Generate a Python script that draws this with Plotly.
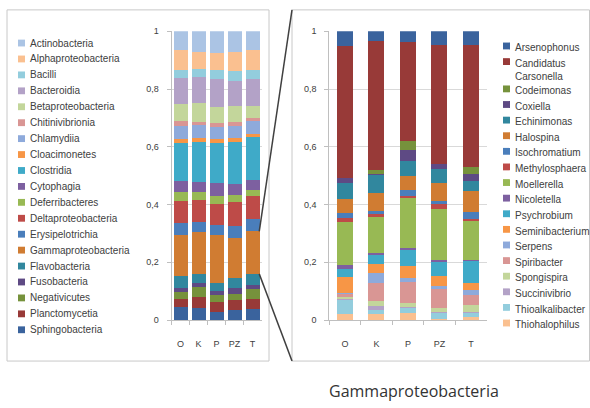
import plotly.graph_objects as go

W, H = 590, 408

samples = ["O", "K", "P", "PZ", "T"]
y_ticks = [0, 0.2, 0.4, 0.6, 0.8, 1]
y_tick_text = ["0", "0,2", "0,4", "0,6", "0,8", "1"]

# Bacterial classes, listed from the base of each stacked bar upwards
class_names = [
    "Sphingobacteria", "Planctomycetia", "Negativicutes", "Fusobacteria",
    "Flavobacteria", "Gammaproteobacteria", "Erysipelotrichia",
    "Deltaproteobacteria", "Deferribacteres", "Cytophagia", "Clostridia",
    "Cloacimonetes", "Chlamydiia", "Chitinivibrionia", "Betaproteobacteria",
    "Bacteroidia", "Bacilli", "Alphaproteobacteria", "Actinobacteria",
]
class_colors = [
    "#3A639D", "#983A38", "#76923C", "#5E4A84", "#31879E", "#D07C32",
    "#4A7EBB", "#BE4B48", "#98B954", "#7D60A0", "#3FAAC8", "#F79646",
    "#8EAADB", "#D99694", "#C3D69B", "#B3A2C7", "#93CDDD", "#FAC090",
    "#ABC4E4",
]
class_O = [0.043, 0.029, 0.024, 0.014, 0.042, 0.142, 0.041, 0.077, 0.030, 0.038,
           0.132, 0.014, 0.045, 0.017, 0.059, 0.090, 0.029, 0.069, 0.065]
class_K = [0.039, 0.040, 0.033, 0.014, 0.034, 0.143, 0.036, 0.077, 0.028, 0.034,
           0.138, 0.015, 0.043, 0.011, 0.064, 0.091, 0.027, 0.060, 0.073]
class_P = [0.028, 0.034, 0.022, 0.015, 0.030, 0.164, 0.036, 0.072, 0.027, 0.046,
           0.138, 0.015, 0.042, 0.011, 0.056, 0.098, 0.031, 0.059, 0.076]
class_PZ = [0.034, 0.033, 0.023, 0.020, 0.036, 0.137, 0.041, 0.083, 0.026, 0.037,
            0.145, 0.016, 0.041, 0.013, 0.057, 0.084, 0.034, 0.067, 0.073]
class_T = [0.038, 0.033, 0.035, 0.016, 0.038, 0.147, 0.042, 0.079, 0.023, 0.032,
           0.150, 0.011, 0.045, 0.008, 0.042, 0.095, 0.030, 0.071, 0.065]

# Genera inside Gammaproteobacteria, from the base upwards
genus_names = [
    "Thiohalophilus", "Thioalkalibacter", "Succinivibrio", "Spongispira",
    "Spiribacter", "Serpens", "Seminibacterium", "Psychrobium", "Nicoletella",
    "Moellerella", "Methylosphaera", "Isochromatium", "Halospina",
    "Echinimonas", "Coxiella", "Codeimonas", "Candidatus Carsonella",
    "Arsenophonus",
]
genus_colors = [
    "#FAC090", "#93CDDD", "#B3A2C7", "#C3D69B", "#D99694", "#8EAADB",
    "#F79646", "#3FAAC8", "#7D60A0", "#98B954", "#BE4B48", "#4A7EBB",
    "#D07C32", "#31879E", "#5E4A84", "#76923C", "#983A38", "#3A639D",
]
genus_O = [0.019, 0.051, 0.002, 0.007, 0.013, 0.002, 0.055, 0.028, 0.013,
           0.148, 0.013, 0.017, 0.049, 0.058, 0.017, 0.000, 0.457, 0.051]
genus_K = [0.019, 0.015, 0.013, 0.019, 0.062, 0.034, 0.032, 0.031, 0.007,
           0.125, 0.009, 0.010, 0.062, 0.065, 0.002, 0.014, 0.445, 0.036]
genus_P = [0.025, 0.017, 0.002, 0.015, 0.073, 0.011, 0.042, 0.056, 0.009,
           0.175, 0.003, 0.022, 0.048, 0.053, 0.036, 0.031, 0.343, 0.039]
genus_PZ = [0.003, 0.022, 0.002, 0.015, 0.064, 0.011, 0.034, 0.052, 0.005,
            0.177, 0.017, 0.008, 0.062, 0.050, 0.017, 0.000, 0.413, 0.048]
genus_T = [0.011, 0.014, 0.003, 0.022, 0.037, 0.017, 0.022, 0.079, 0.002,
           0.135, 0.006, 0.024, 0.075, 0.034, 0.024, 0.023, 0.425, 0.047]

class_table = [class_O, class_K, class_P, class_PZ, class_T]
genus_table = [genus_O, genus_K, genus_P, genus_PZ, genus_T]

# page geometry (pixels)
PLOT_TOP, PLOT_BOTTOM = 27, 323
LEFT_X0, LEFT_X1 = 171.5, 261.5
RIGHT_X0, RIGHT_X1 = 329.25, 486.75
LEFT_BAR_W, RIGHT_BAR_W = 0.75, 0.52

def px(x):
    return x / W

def py(y):
    return 1 - y / H

TEXT = "#404040"
AXIS = "#BFBFBF"
GRID = "#D9D9D9"
FONT = "Liberation Sans, Arial, sans-serif"

fig = go.Figure()

for i, name in enumerate(class_names):
    fig.add_trace(go.Bar(
        x=samples, y=[row[i] for row in class_table], name=name,
        marker=dict(color=class_colors[i], line=dict(width=0)),
        width=LEFT_BAR_W, xaxis="x", yaxis="y", showlegend=False,
    ))

for i, name in enumerate(genus_names):
    fig.add_trace(go.Bar(
        x=samples, y=[row[i] for row in genus_table], name=name,
        marker=dict(color=genus_colors[i], line=dict(width=0)),
        width=RIGHT_BAR_W, xaxis="x2", yaxis="y2", showlegend=False,
    ))

x_common = dict(
    type="category", showline=True, linecolor=AXIS, linewidth=1,
    ticks="outside", tickson="boundaries", ticklen=4, tickcolor=AXIS,
    showgrid=False, tickangle=0, tickfont=dict(size=9, color=TEXT, family=FONT),
    ticklabelstandoff=15, fixedrange=True,
)
y_common = dict(
    range=[0, 1], tickvals=y_ticks, ticktext=y_tick_text,
    showgrid=True, gridcolor=GRID, gridwidth=1, zeroline=False,
    showline=True, linecolor=AXIS, linewidth=1, ticks="outside",
    ticklen=4, tickcolor=AXIS, tickfont=dict(size=9, color=TEXT, family=FONT),
    ticklabelstandoff=6, fixedrange=True,
    domain=[py(PLOT_BOTTOM), py(PLOT_TOP)],
)

shapes = []
annotations = []

# panel frames
for x0, x1 in [(7, 269), (292, 589.5)]:
    shapes.append(dict(type="rect", xref="paper", yref="paper",
                       x0=px(x0), x1=px(x1), y0=py(365), y1=py(5),
                       line=dict(color="#C8C8C8", width=1), layer="below"))

# connectors from the Gammaproteobacteria block of the last bar to the zoom panel
gamma_idx = class_names.index("Gammaproteobacteria")
last = class_table[-1]
gamma_bottom = sum(last[:gamma_idx])
gamma_top = gamma_bottom + last[gamma_idx]
scale = PLOT_BOTTOM - PLOT_TOP
slot = (LEFT_X1 - LEFT_X0) / len(samples)
bar_right_px = LEFT_X0 + (len(samples) - 0.5 + LEFT_BAR_W / 2) * slot
for val, end_y in [(gamma_top, 5), (gamma_bottom, 365)]:
    start_y = PLOT_BOTTOM - val * scale
    shapes.append(dict(
        type="line", xref="paper", yref="paper",
        x0=px(bar_right_px), y0=py(start_y), x1=px(292), y1=py(end_y),
        line=dict(color="#404040", width=1.5),
    ))

# class legend
for k, i in enumerate(reversed(range(len(class_names)))):
    yc = 39 + k * 16.33
    shapes.append(dict(type="rect", xref="paper", yref="paper",
                       x0=px(18), x1=px(25), y0=py(yc + 3.5), y1=py(yc - 3.5),
                       fillcolor=class_colors[i], line=dict(width=0)))
    annotations.append(dict(text=class_names[i], xref="paper", yref="paper",
                            x=px(27.5), y=py(yc), xanchor="left", yanchor="middle",
                            showarrow=False, font=dict(size=10, color=TEXT, family=FONT)))

# genus legend
yc = 42
for i in reversed(range(len(genus_names))):
    name = genus_names[i]
    label = name.replace(" ", "<br>") if len(name) > 16 else name
    lines = label.count("<br>") + 1
    shapes.append(dict(type="rect", xref="paper", yref="paper",
                       x0=px(503), x1=px(510), y0=py(yc + 3.5), y1=py(yc - 3.5),
                       fillcolor=genus_colors[i], line=dict(width=0)))
    annotations.append(dict(text=label, xref="paper", yref="paper",
                            x=px(512.5), y=py(yc - 6), xanchor="left", yanchor="top",
                            align="left", showarrow=False,
                            font=dict(size=10, color=TEXT, family=FONT)))
    yc += 16 + (lines - 1) * 12

annotations.append(dict(text="Gammaproteobacteria", xref="paper", yref="paper",
                        x=px(414), y=py(396), xanchor="center", yanchor="middle",
                        showarrow=False,
                        font=dict(size=16, color="#333333", family="Open Sans, sans-serif")))

fig.update_layout(
    width=W, height=H, margin=dict(l=0, r=0, t=0, b=0),
    paper_bgcolor="white", plot_bgcolor="white",
    barmode="stack", bargap=0, showlegend=False,
    xaxis=dict(domain=[px(LEFT_X0), px(LEFT_X1)], anchor="y", **x_common),
    yaxis=dict(anchor="x", **y_common),
    xaxis2=dict(domain=[px(RIGHT_X0), px(RIGHT_X1)], anchor="y2", **x_common),
    yaxis2=dict(anchor="x2", **y_common),
    shapes=shapes, annotations=annotations,
)

fig.write_html("out.html")
